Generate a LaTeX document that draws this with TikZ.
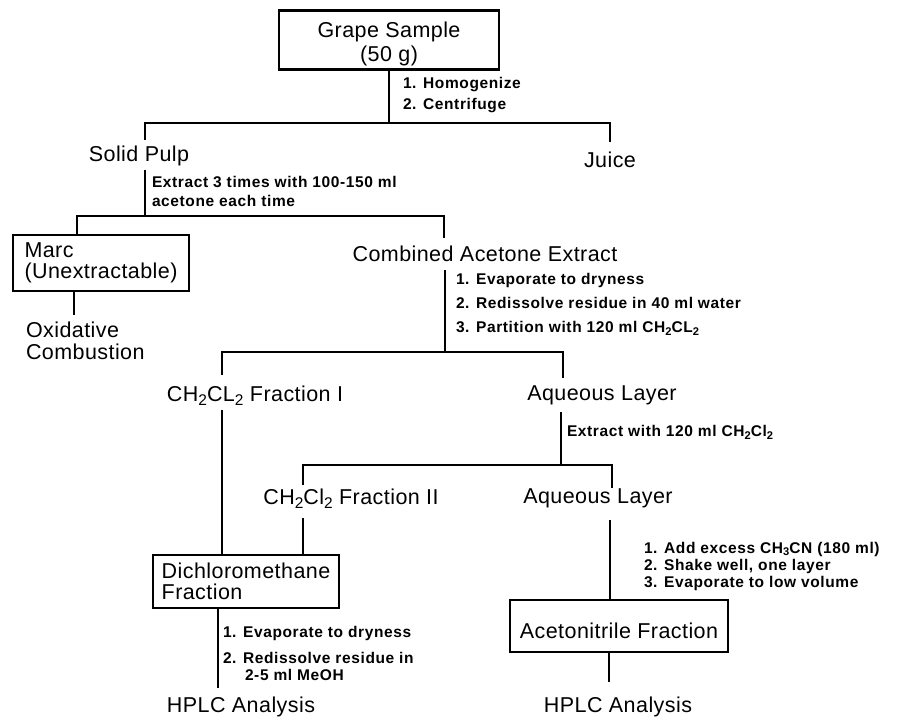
\documentclass[tikz,border=0pt]{standalone}
\usepackage{fontspec}
\setmainfont{Liberation Sans}[LetterSpace=2]
\newfontfamily\notefont{Liberation Sans}[LetterSpace=4]
% lowered subscript digits for the chemical formulas
\newcommand\lowsub[1]{\raisebox{-0.35ex}{\scalebox{0.72}{#1}}}
% text drawn slightly lower inside its box, keeping the box size
\newcommand\dropline[2]{\raisebox{-#1}[\height][\depth]{#2}}
\begin{document}
\begin{tikzpicture}[x=1pt,y=-1pt,
  every node/.style={inner sep=0pt, outer sep=0pt},
  lbl/.style={font=\fontsize{21.5}{22}\selectfont},
  note/.style={font=\notefont\bfseries\fontsize{15.5}{21}\selectfont, align=left, anchor=west},
  boxed/.style={draw, line width=2.4pt, font=\fontsize{21.5}{21}\selectfont},
  link/.style={line width=1.8pt}]
\useasboundingbox (0,0) rectangle (902,717);

% ---- boxes ----
\node[boxed, minimum width=220, minimum height=59, align=center,
      font=\fontsize{21.5}{24}\selectfont] (gs) at (389,40)
      {\dropline{4pt}{Grape Sample}\\\dropline{4pt}{(50 g)}};
\node[boxed, minimum width=176, minimum height=56, align=left, anchor=north west]
      (marc) at (13,235) {Marc\\(Unextractable)};
\node[boxed, minimum width=186, minimum height=53, align=left, anchor=north west]
      (dm) at (153,555) {Dichloromethane\\Fraction};
\node[boxed, minimum width=218, minimum height=52, anchor=north west]
      (ac) at (510,600) {\dropline{5pt}{Acetonitrile Fraction}};

% ---- plain labels ----
\node[lbl] (sp) at (139,156) {Solid Pulp};
\node[lbl] (ju) at (610,160) {Juice};
\node[lbl] (ca) at (485,254) {Combined Acetone Extract};
\node[lbl, align=left, anchor=west] (ox) at (26,341) {Oxidative\\Combustion};
\node[lbl] (f1) at (255,396) {CH\lowsub{2}CL\lowsub{2} Fraction I};
\node[lbl] (aq1) at (602,395) {Aqueous Layer};
\node[lbl] (f2) at (351,499) {CH\lowsub{2}Cl\lowsub{2} Fraction II};
\node[lbl] (aq2) at (598,498) {Aqueous Layer};
\node[lbl] (h1) at (241,707) {HPLC Analysis};
\node[lbl] (h2) at (618,707) {HPLC Analysis};

% ---- procedure notes ----
\node[note] (n1) at (403,95) {1. Homogenize\\2. Centrifuge};
\node[note, font=\notefont\bfseries\fontsize{15.5}{19}\selectfont] (n2) at (152,191)
      {Extract 3 times with 100-150 ml\\acetone each time};
\node[note, font=\notefont\bfseries\fontsize{15.5}{24}\selectfont] (n3) at (456,304)
      {1. Evaporate to dryness\\2. Redissolve residue in 40 ml water\\3. Partition with 120 ml CH\lowsub{2}CL\lowsub{2}};
\node[note] (n4) at (567,432) {Extract with 120 ml CH\lowsub{2}Cl\lowsub{2}};
\node[note, font=\notefont\bfseries\fontsize{15.5}{17}\selectfont] (n5) at (644,566)
      {1. Add excess CH\lowsub{3}CN (180 ml)\\2. Shake well, one layer\\3. Evaporate to low volume};
\node[note] (n6) at (223,633) {1. Evaporate to dryness};
\node[note, font=\notefont\bfseries\fontsize{15.5}{17}\selectfont] (n7) at (223,666)
      {2. Redissolve residue in\\\hspace*{22pt}2-5 ml MeOH};

% ---- connector junctions and free ends ----
\coordinate (j1) at (389,123);
\coordinate (spT) at (145,140);
\coordinate (juT) at (610,142);
\coordinate (spB) at (145,170);
\coordinate (j2) at (145,216);
\coordinate (caT) at (444,238);
\coordinate (oxT) at (74,315);
\coordinate (caB) at (445,270);
\coordinate (j3) at (445,352);
\coordinate (f1T) at (222,375);
\coordinate (aq1T) at (563,378);
\coordinate (f1B) at (222,410);
\coordinate (aq1B) at (561,412);
\coordinate (j4) at (561,465);
\coordinate (f2T) at (303,485);
\coordinate (aq2T) at (612,488);
\coordinate (f2B) at (303,518);
\coordinate (h1T) at (218,688);
\coordinate (aq2B) at (610,520);
\coordinate (h2T) at (609,682);

% ---- connectors ----
\draw[link] (gs.south) -- (j1);
\draw[link] (spT) |- (j1) -| (juT);
\draw[link] (spB) -- (j2);
\draw[link] ([xshift=-24]marc.north) |- (j2) -| (caT);
\draw[link] ([xshift=-27]marc.south) -- (oxT);
\draw[link] (caB) -- (j3);
\draw[link] (f1T) |- (j3) -| (aq1T);
\draw[link] (f1B) -- ([xshift=-24]dm.north);
\draw[link] (aq1B) -- (j4);
\draw[link] (f2T) |- (j4) -| (aq2T);
\draw[link] (f2B) -- ([xshift=57]dm.north);
\draw[link] ([xshift=-28]dm.south) -- (h1T);
\draw[link] (aq2B) -- ([xshift=-9]ac.north);
\draw[link] ([xshift=-10]ac.south) -- (h2T);
\end{tikzpicture}
\end{document}
